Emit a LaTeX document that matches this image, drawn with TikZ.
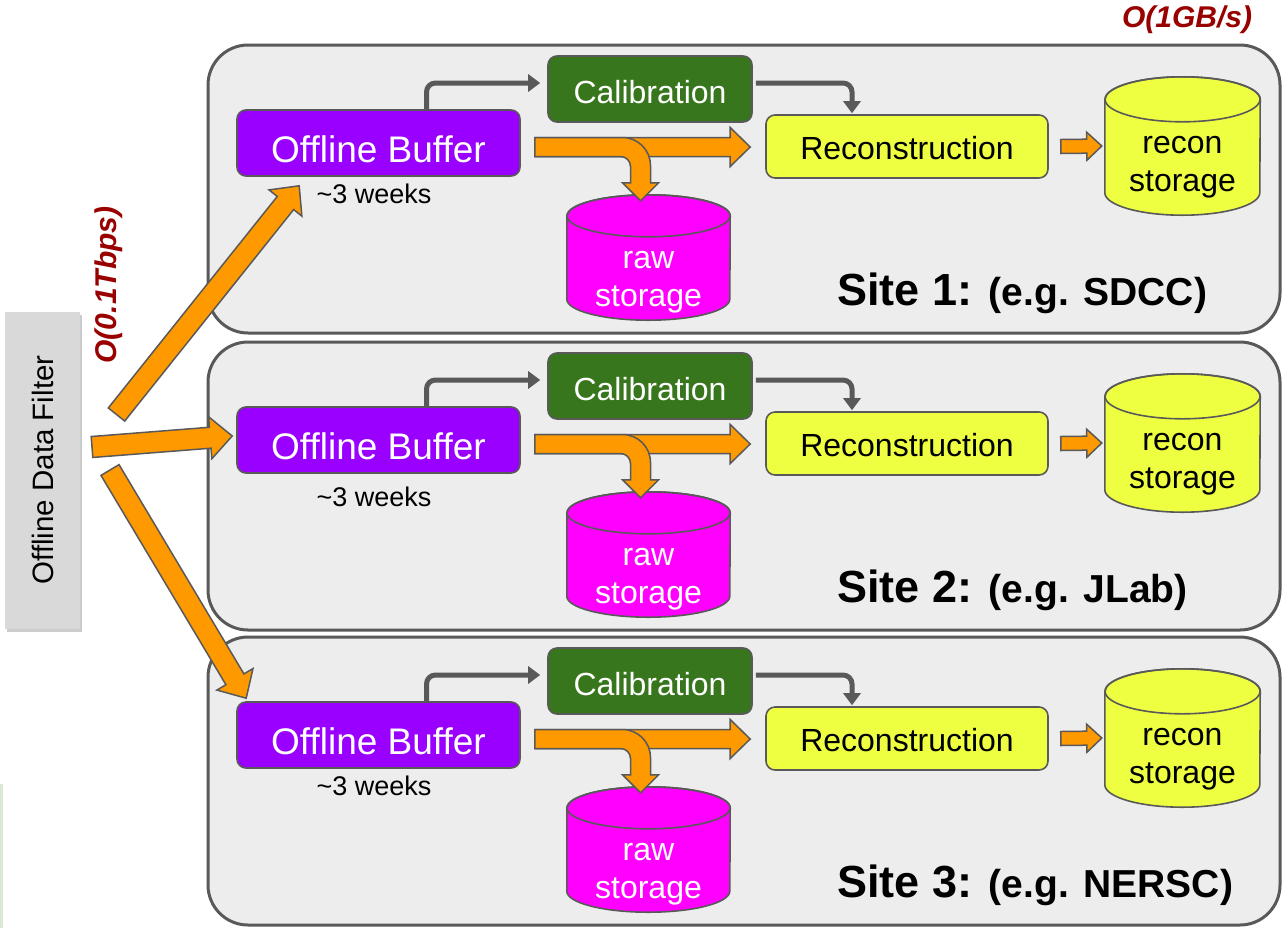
\documentclass[tikz,border=0pt]{standalone}
\usepackage{fontspec}
\setmainfont{Liberation Sans}
\usetikzlibrary{calc,arrows.meta,shadows}
\definecolor{sitefill}{HTML}{EDEDED}
\definecolor{siteline}{HTML}{595959}
\definecolor{bufpurple}{HTML}{9900FF}
\definecolor{calgreen}{HTML}{38761D}
\definecolor{recoyellow}{HTML}{EEFF41}
\definecolor{rawmagenta}{HTML}{FF00FF}
\definecolor{arrorange}{HTML}{FF9900}
\definecolor{ratered}{HTML}{990000}
\definecolor{filtergrey}{HTML}{D9D9D9}
\definecolor{stripgreen}{HTML}{D9EAD3}

\newcommand\lowr[2]{\raisebox{-#1}[\height][\depth]{#2}}
\newcommand\blockarrow[5]{%
 \path[blockarr] let \p1=(#1), \p2=(#2), \n1={atan2(\y2-\y1,\x2-\x1)}, \n2={veclen(\x2-\x1,\y2-\y1)} in
  ($(\p1)+(\n1+90:#3pt)$) -- ($(\p1)+(\n1:\n2-#5pt)+(\n1+90:#3pt)$) -- ($(\p1)+(\n1:\n2-#5pt)+(\n1+90:#4pt)$) -- (\p2)
  -- ($(\p1)+(\n1:\n2-#5pt)+(\n1-90:#4pt)$) -- ($(\p1)+(\n1:\n2-#5pt)+(\n1-90:#3pt)$) -- ($(\p1)+(\n1-90:#3pt)$) -- cycle;
}
\newcommand\cylbody[4]{%
 \draw[cylline, fill=#2] ($(#1.north west)+(0,#3)$) -- ($(#1.south west)+(0,-#3)$)
   arc[start angle=180,end angle=360,x radius=#4pt,y radius=#3pt]
   -- ($(#1.north east)+(0,#3)$)
   arc[start angle=0,end angle=180,x radius=#4pt,y radius=#3pt] -- cycle;
 \draw[cylline] ($(#1.north)+(0,#3)$) ellipse[x radius=#4pt,y radius=#3pt];
}

\begin{document}
\begin{tikzpicture}[x=1pt,y=-1pt,
  sitebox/.style={draw=siteline, fill=sitefill, line width=3pt, rounded corners=40pt,
     minimum width=1072pt, minimum height=288pt, inner sep=0pt},
  procbox/.style={draw=siteline, line width=1.6pt, rounded corners=9pt, inner sep=0pt},
  bigtext/.style={font=\fontsize{37}{44}\selectfont},
  midtext/.style={font=\fontsize{32}{38}\selectfont},
  cyltext/.style={font=\fontsize{32}{38}\selectfont, align=center, inner sep=0pt},
  cylline/.style={draw=siteline, line width=1.6pt},
  blockarr/.style={fill=arrorange, draw=siteline, line width=1.5pt, line join=miter},
  greyarr/.style={draw=siteline, line width=5pt, rounded corners=9pt,
     -{Triangle[length=12pt,width=17pt]}},
  ratetext/.style={text=ratered, font=\fontsize{30}{36}\selectfont\bfseries\itshape, inner sep=0pt},
  sitetext/.style={font=\fontsize{45}{50}\selectfont\bfseries, inner sep=0pt},
]
\useasboundingbox (0,0) rectangle (1282,930);

% faint strip at left edge
\fill[stripgreen] (0,784) rectangle (3,928);

\foreach \i/\dy/\wk/\sitename in {1/0/194/SDCC, 2/297/200/JLab, 3/592/194/NERSC} {
 \begin{scope}[shift={(0,\dy)}]
  \node[sitebox] (site\i) at (744,189) {};
  \node[procbox, fill=bufpurple, text=white, bigtext, minimum width=283pt, minimum height=66pt] (ob\i) at (378.5,143) {\lowr{6pt}{Offline Buffer}};
  \node[font=\fontsize{27}{30}\selectfont, inner sep=0pt] (wk\i) at (374,\wk) {\textasciitilde3 weeks};
  \node[procbox, fill=calgreen, text=white, midtext, minimum width=204pt, minimum height=66pt] (cal\i) at (650,89) {\lowr{3pt}{Calibration}};
  \node[procbox, fill=recoyellow, midtext, minimum width=282pt, minimum height=63pt] (reco\i) at (907,146.5) {\lowr{2pt}{Reconstruction}};
  \node[minimum width=163pt, minimum height=125pt, inner sep=0pt] (raw\i) at (648.5,257.5) {};
  \node[minimum width=155pt, minimum height=138pt, inner sep=0pt] (rs\i) at (1182.5,146) {};
  \node[sitetext, anchor=base west] (sl\i) at (837,305) {Site \i: {\fontsize{39}{42}\selectfont(e.g. \sitename)}};
 \end{scope}
 \cylbody{raw\i}{rawmagenta}{21}{81.5}
 \cylbody{rs\i}{recoyellow}{22.5}{77.5}
 \node[cyltext, text=white] at ($(raw\i.center)+(0,25)$) {raw\\storage};
 \node[cyltext] at ($(rs\i.center)+(0,21)$) {recon\\storage};
 % grey connectors
 \draw[greyarr] ($(ob\i.north)+(48,0)$) |- ($(cal\i.west)+(-7,-6)$);
 \draw[greyarr] ($(cal\i.east)+(3,-6)$) -| ($(reco\i.north)+(-55,-1)$);
 % orange arrows
 \coordinate (ha\i) at ($(ob\i.east)+(14,4)$);
 \coordinate (hb\i) at ($(reco\i.west)+(-15,0.5)$);
 \blockarrow{ha\i}{hb\i}{9.5}{19.5}{20}
 \coordinate (bt\i) at ($(raw\i.north)+(-8,6)$);
 \path[blockarr] ($(ha\i)+(0,-9.5)$) -- ($(ha\i -| bt\i)+(-18,-9.5)$)
    arc[start angle=90,end angle=0,radius=28pt]
    -- ($(bt\i)+(10,-18)$) -- ($(bt\i)+(18,-18)$) -- (bt\i) -- ($(bt\i)+(-18,-18)$) -- ($(bt\i)+(-10,-18)$)
    -- ($(ha\i -| bt\i)+(-10,19.5)$)
    arc[start angle=0,end angle=90,radius=10pt]
    -- ($(ha\i)+(0,9.5)$) -- cycle;
 \coordinate (sa\i) at ($(reco\i.east)+(12,0)$);
 \coordinate (sb\i) at ($(rs\i.west)+(-3,0)$);
 \blockarrow{sa\i}{sb\i}{7}{14}{15}
}

% offline data filter
\node[fill=filtergrey, minimum width=75pt, minimum height=317pt, inner sep=0pt,
  drop shadow={shadow xshift=1.5pt, shadow yshift=-3pt, opacity=0.4}] (odf) at (42.5,470) {};
\node[rotate=90, font=\fontsize{29.5}{34}\selectfont, inner sep=0pt] (odft) at (odf.center) {Offline Data Filter};

% rate labels
\node[ratetext, rotate=90] (r1) at (109,285) {O(0.1Tbps)};
\node[ratetext] (r2) at (1187,20) {O(1GB/s)};

% filter arrows
\coordinate (fa1) at (116.5,414.5);
\coordinate (fa2) at (92,447);
\coordinate (fa3) at (110,470);
\coordinate (ta1) at ($(ob1.south west)+(63,9)$);
\coordinate (ta2) at ($(ob2.west)+(-4,-4)$);
\coordinate (ta3) at ($(ob3.north west)+(10,-3)$);
\blockarrow{fa1}{ta1}{10.5}{21}{22}
\blockarrow{fa2}{ta2}{10.5}{21}{22}
\blockarrow{fa3}{ta3}{10.5}{21}{22}
\end{tikzpicture}
\end{document}
